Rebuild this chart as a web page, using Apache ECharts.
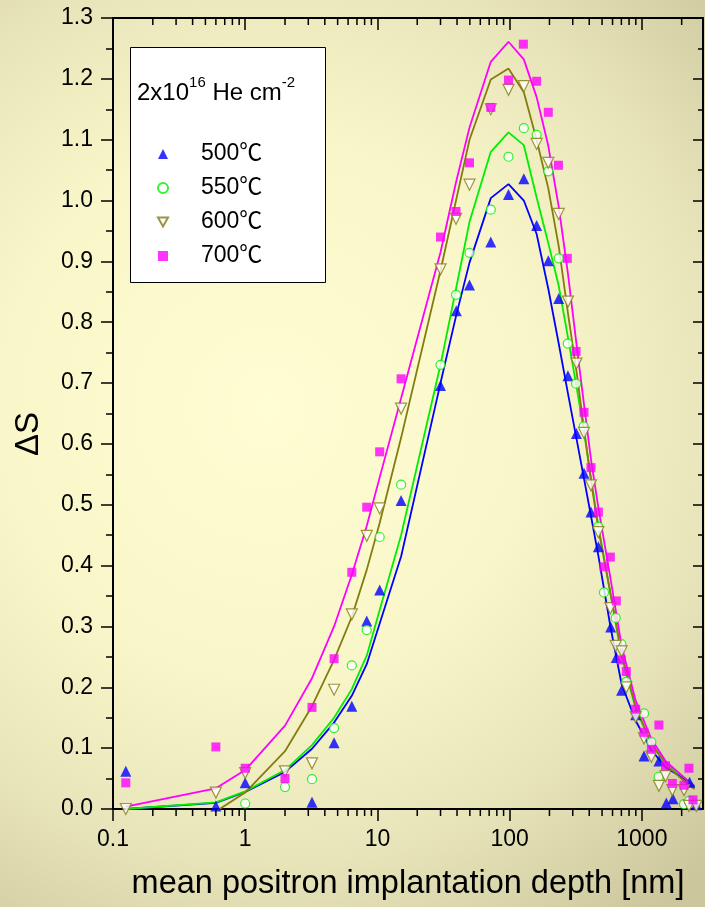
<!DOCTYPE html>
<html>
<head>
<meta charset="utf-8">
<script src="https://cdn.jsdelivr.net/npm/echarts@6/dist/echarts.min.js"></script>
<style>
  html, body { margin: 0; padding: 0; }
  #chart { width: 705px; height: 907px; }
</style>
</head>
<body>
<div id="chart"></div>
<script>
const FONT = '"Liberation Sans", Arial, "Noto Sans CJK SC", sans-serif'

// measured points: [depth nm, ΔS]
const pts500 = [[0.125, 0.062], [0.6, 0.005], [1.0, 0.043], [3.2, 0.011], [4.7, 0.109], [6.4, 0.169],
  [8.3, 0.309], [10.4, 0.36], [15.1, 0.507], [30, 0.696], [39.5, 0.819], [49.7, 0.861], [72, 0.932],
  [98, 1.01], [128, 1.036], [160, 0.959], [196, 0.901], [235, 0.839], [276, 0.712], [320, 0.617],
  [365, 0.552], [412, 0.488], [469, 0.431], [581, 0.299], [641, 0.249], [703, 0.195], [898, 0.155],
  [1038, 0.087], [1346, 0.079], [1531, 0.010], [1718, 0.017], [2297, 0.044], [2582, 0.007]]
const pts550 = [[1.0, 0.009], [2.0, 0.036], [3.2, 0.049], [4.7, 0.133], [6.4, 0.236], [8.3, 0.294],
  [10.4, 0.447], [15.1, 0.533], [30, 0.730], [39.3, 0.845], [49.7, 0.914], [72, 0.985], [98, 1.072],
  [128, 1.119], [160, 1.108], [196, 1.048], [235, 0.905], [275, 0.765], [318, 0.699], [363, 0.629],
  [468, 0.464], [517, 0.356], [634, 0.314], [700, 0.271], [763, 0.209], [1038, 0.157], [1180, 0.110],
  [1340, 0.053], [2084, 0.008], [2270, 0.013]]
const pts600 = [[0.125, 0.0], [0.6, 0.027], [1.0, 0.059], [2.0, 0.062], [3.2, 0.075], [4.7, 0.196],
  [6.4, 0.32], [8.3, 0.449], [10.4, 0.494], [15.1, 0.658], [30, 0.887], [39.3, 0.97], [49.7, 1.026],
  [72, 1.15], [98, 1.182], [128, 1.188], [160, 1.093], [196, 1.062], [235, 0.978], [276, 0.834],
  [320, 0.732], [365, 0.618], [412, 0.532], [469, 0.455], [578, 0.330], [634, 0.268], [703, 0.259],
  [763, 0.200], [898, 0.151], [1038, 0.116], [1180, 0.086], [1346, 0.038], [1510, 0.054],
  [1700, 0.031], [2084, 0.031], [2270, 0.005], [2582, 0.005]]
const pts700 = [[0.125, 0.043], [0.6, 0.102], [1.0, 0.067], [2.0, 0.05], [3.2, 0.167], [4.7, 0.247],
  [6.4, 0.389], [8.3, 0.496], [10.4, 0.587], [15.1, 0.707], [30, 0.940], [39.3, 0.982], [49.7, 1.062],
  [72, 1.153], [98, 1.198], [127, 1.257], [160, 1.196], [196, 1.145], [234, 1.058], [273, 0.905],
  [318, 0.752], [365, 0.652], [412, 0.561], [469, 0.488], [517, 0.398], [578, 0.414], [641, 0.342],
  [700, 0.245], [763, 0.226], [898, 0.164], [1038, 0.126], [1180, 0.098], [1346, 0.138], [1510, 0.071],
  [1700, 0.042], [2084, 0.039], [2270, 0.067], [2435, 0.015]]

// fitted curves
const fitDepth = [0.125, 0.6, 1, 2, 3.2, 4.7, 6.4, 8.3, 10.4, 15.1, 30, 39.3, 49.7, 72, 98, 128, 160,
  196, 235, 276, 320, 365, 412, 469, 578, 703, 898, 1180, 1520, 2084, 2500]
const fit500 = [0.0, 0.010, 0.028, 0.061, 0.099, 0.142, 0.186, 0.238, 0.305, 0.415, 0.70, 0.81, 0.898,
  1.004, 1.027, 1.0, 0.945, 0.855, 0.765, 0.683, 0.609, 0.543, 0.482, 0.416, 0.30, 0.205, 0.145,
  0.097, 0.068, 0.05, 0.036]
const fit550 = [0.0, 0.011, 0.029, 0.064, 0.105, 0.150, 0.197, 0.252, 0.327, 0.45, 0.73, 0.855, 0.965,
  1.08, 1.112, 1.091, 1.005, 0.93, 0.86, 0.775, 0.695, 0.62, 0.545, 0.465, 0.355, 0.25, 0.165,
  0.107, 0.075, 0.052, 0.038]
const fit600 = [null, -0.004, 0.027, 0.095, 0.169, 0.245, 0.316, 0.393, 0.47, 0.61, 0.885, 1.0, 1.10,
  1.199, 1.217, 1.178, 1.10, 1.02, 0.925, 0.815, 0.72, 0.625, 0.54, 0.46, 0.355, 0.255, 0.168,
  0.108, 0.073, 0.046, 0.033]
const fit700 = [0.004, 0.034, 0.064, 0.137, 0.215, 0.30, 0.385, 0.465, 0.545, 0.675, 0.915, 1.03, 1.12,
  1.228, 1.261, 1.232, 1.17, 1.09, 0.99, 0.88, 0.765, 0.665, 0.575, 0.495, 0.38, 0.268, 0.178,
  0.115, 0.078, 0.052, 0.038]

const seriesNames = ['500℃', '550℃', '600℃', '700℃']
const minorDepths = [0.2, 0.3, 0.4, 0.5, 0.6, 0.7, 0.8, 0.9, 2, 3, 4, 5, 6, 7, 8, 9,
  20, 30, 40, 50, 60, 70, 80, 90, 200, 300, 400, 500, 600, 700, 800, 900, 2000]

const X_MIN = 0.1
const X_MAX = 2900
const Y_MIN = 0
const Y_MAX = 1.3

const zip = (xs, ys) => xs.map((x, i) => [x, ys[i]])

const chart = echarts.init(document.getElementById('chart'))

const baseX = {
  type: 'log',
  min: X_MIN,
  max: X_MAX,
  splitLine: { show: false },
  axisLine: { show: true, onZero: false, lineStyle: { color: '#000', width: 2 } },
}
const baseY = {
  type: 'value',
  min: Y_MIN,
  max: Y_MAX,
  interval: 0.1,
  splitLine: { show: false },
  axisLine: { show: true, onZero: false, lineStyle: { color: '#000', width: 2 } },
}

const fitLine = (name, ys, color) => ({
  name,
  type: 'line',
  data: zip(fitDepth, ys),
  showSymbol: false,
  symbol: 'none',
  connectNulls: false,
  lineStyle: { color, width: 1.8 },
  z: 2,
})

const baseGraphic = [
  {
    type: 'rect',
    left: 130,
    top: 47,
    shape: { width: 195, height: 235 },
    style: { fill: '#fff', stroke: '#000', lineWidth: 1 },
    z: 1,
  },
  {
    type: 'text',
    left: 137,
    top: 75,
    z: 6,
    style: {
      text: '{a|2x10}{s|16}{a| He cm}{s|-2}',
      rich: {
        a: { fontSize: 24, fontFamily: FONT, fill: '#000', lineHeight: 30, verticalAlign: 'bottom' },
        s: { fontSize: 15, fontFamily: FONT, fill: '#000', lineHeight: 14, verticalAlign: 'top' },
      },
    },
  },
  {
    type: 'text',
    x: 29,
    y: 434,
    rotation: Math.PI / 2,
    z: 6,
    style: {
      text: 'ΔS',
      font: '33px ' + FONT,
      fill: '#000',
      align: 'center',
      verticalAlign: 'middle',
    },
  },
]

const option = {
  animation: false,
  backgroundColor: new echarts.graphic.RadialGradient(0.38, 0.45, 0.9, [
    { offset: 0, color: '#fefdd3' },
    { offset: 0.42, color: '#f9f7c9' },
    { offset: 0.72, color: '#e8e4ba' },
    { offset: 1, color: '#cbc69c' },
  ]),
  grid: { left: 113, right: 2, top: 18, bottom: 98 },
  xAxis: [
    {
      ...baseX,
      position: 'bottom',
      axisTick: { show: true, length: 12, lineStyle: { color: '#000', width: 1.5 } },
      axisLabel: {
        color: '#000',
        fontSize: 23,
        fontFamily: FONT,
        margin: 19,
        showMaxLabel: false,
        formatter: v => String(+(+v).toPrecision(6)),
      },
      name: 'mean positron implantation depth [nm]',
      nameLocation: 'middle',
      nameGap: 59,
      nameTextStyle: { color: '#000', fontSize: 32.5, fontFamily: FONT },
    },
    {
      ...baseX,
      position: 'top',
      axisTick: { show: true, inside: true, length: 12, lineStyle: { color: '#000', width: 1.5 } },
      axisLabel: { show: false },
    },
  ],
  yAxis: [
    {
      ...baseY,
      position: 'left',
      axisTick: { show: true, length: 12, lineStyle: { color: '#000', width: 1.5 } },
      minorTick: { show: true, splitNumber: 2, length: 7, lineStyle: { color: '#000', width: 1.5 } },
      axisLabel: {
        color: '#000',
        fontSize: 23,
        fontFamily: FONT,
        margin: 20,
        formatter: v => v.toFixed(1),
      },
    },
    {
      ...baseY,
      position: 'right',
      axisTick: { show: true, inside: true, length: 10, lineStyle: { color: '#000', width: 1.5 } },
      minorTick: { show: true, splitNumber: 2, length: 5, lineStyle: { color: '#000', width: 1.5 } },
      axisLabel: { show: false },
    },
  ],
  legend: {
    data: seriesNames.map((n, i) => (i === 2 ? { name: n, icon: 'path://M0,0L10,0L5,9Z' } : n)),
    orient: 'vertical',
    left: 157,
    top: 142,
    padding: 0,
    itemWidth: 10,
    itemHeight: 10,
    itemGap: 10,
    selectedMode: false,
    textStyle: { color: '#000', fontSize: 23, fontFamily: FONT, lineHeight: 24, padding: [0, 0, 0, 28] },
  },
  graphic: baseGraphic,
  series: [
    fitLine('fit500', fit500, '#0000ff'),
    fitLine('fit550', fit550, '#00ee00'),
    fitLine('fit600', fit600, '#857c10'),
    fitLine('fit700', fit700, '#ff00ff'),
    {
      name: seriesNames[0],
      type: 'scatter',
      data: pts500,
      symbol: 'triangle',
      symbolSize: 11,
      itemStyle: { color: '#0000ff' },
      clip: false,
      z: 3,
    },
    {
      name: seriesNames[1],
      type: 'scatter',
      data: pts550,
      symbol: 'circle',
      symbolSize: 9,
      itemStyle: { color: '#ffffff', borderColor: '#00ee00', borderWidth: 1.2 },
      clip: false,
      z: 3,
    },
    {
      name: seriesNames[2],
      type: 'scatter',
      data: pts600,
      symbol: 'triangle',
      symbolRotate: 180,
      symbolSize: 11,
      itemStyle: { color: '#ffffff', borderColor: '#857c10', borderWidth: 1.2 },
      clip: false,
      z: 3,
    },
    {
      name: seriesNames[3],
      type: 'scatter',
      data: pts700,
      symbol: 'rect',
      symbolSize: 9,
      itemStyle: { color: '#ff00ff' },
      clip: false,
      z: 3,
    },
  ],
}

chart.setOption(option)

// log-axis minor ticks (2..9 per decade), placed through the grid's own scales; both point down
const finder = { xAxisIndex: 0, yAxisIndex: 0 }
const minorTicks = []
minorDepths.forEach(d => {
  ;[Y_MIN, Y_MAX].forEach(yv => {
    const p = chart.convertToPixel(finder, [d, yv])
    if (!p || !isFinite(p[0]) || !isFinite(p[1])) return
    minorTicks.push({
      type: 'line',
      shape: { x1: p[0], y1: p[1], x2: p[0], y2: p[1] + 7 },
      style: { stroke: '#000', lineWidth: 1.5 },
      silent: true,
      z: 7,
    })
  })
})
chart.setOption({ graphic: baseGraphic.concat(minorTicks) })
</script>
</body>
</html>
